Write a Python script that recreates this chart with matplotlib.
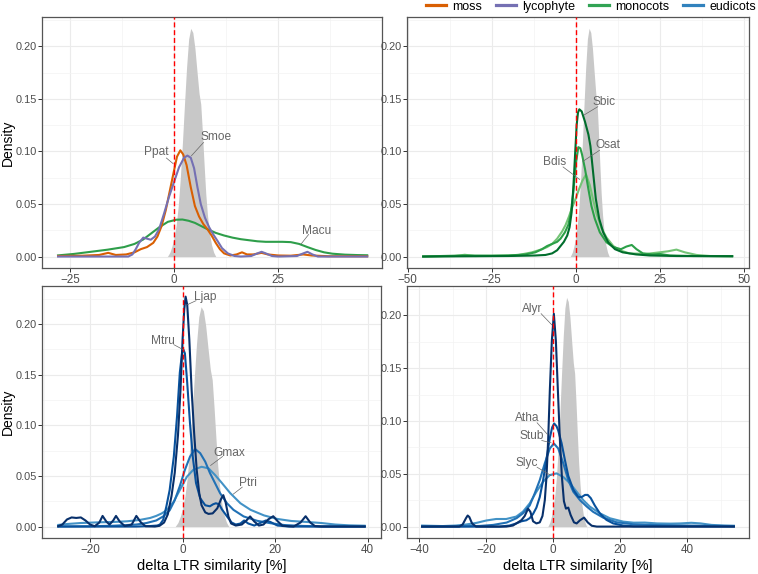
import numpy as np
import matplotlib
matplotlib.use("Agg")
import matplotlib.pyplot as plt
from matplotlib.lines import Line2D

plt.rcParams['font.family'] = ['Liberation Sans', 'DejaVu Sans']

# ---------------- data ----------------
groups = ["moss", "lycophyte", "monocots", "eudicots"]
group_colors = ["#D95F02", "#7570B3", "#31A354", "#3182BD"]

# grey background density (same in every panel)
bg_x = [-1.6, -1.0, -0.5, 0.0, 0.5, 1.0, 1.5, 2.0, 2.5, 3.0, 3.5, 4.0, 4.5, 5.0, 5.5,
        6.0, 6.4, 6.8, 7.2, 7.6, 8.0, 8.5, 9.0, 9.5, 10.0]
bg_y = [0.0, 0.004, 0.010, 0.018, 0.030, 0.048, 0.075, 0.108, 0.145, 0.180, 0.207, 0.217,
        0.213, 0.198, 0.176, 0.155, 0.145, 0.118, 0.088, 0.060, 0.040, 0.022, 0.011, 0.004, 0.0]

# panel 1
ppat = [(-28.1, 0.0005), (-22, 0.0008), (-18, 0.0015), (-15.8, 0.0035), (-14, 0.0015), (-11.5, 0.002),
        (-9.5, 0.004), (-8, 0.007), (-6.5, 0.009), (-5, 0.013), (-4, 0.019), (-3, 0.029), (-2, 0.044),
        (-1, 0.063), (0, 0.082), (0.7, 0.095), (1.5, 0.101), (2.2, 0.097), (3.0, 0.087), (4.0, 0.066),
        (5.0, 0.048), (6.0, 0.038), (7.0, 0.031), (8.0, 0.026), (9.0, 0.020), (10.0, 0.013), (11.0, 0.007),
        (12.0, 0.003), (13.5, 0.001), (15, 0.002), (16.3, 0.004), (17.5, 0.002), (19, 0.002), (21, 0.0035),
        (22.5, 0.002), (25, 0.001), (28, 0.0008), (31, 0.002), (33, 0.001), (37, 0.0003), (46.6, 0.0002)]
smoe = [(-28.1, 0), (-11, 0), (-10, 0.002), (-9.2, 0.007), (-8.4, 0.013), (-7.4, 0.018), (-6.5, 0.017),
        (-5.6, 0.016), (-4.6, 0.019), (-3.6, 0.026), (-2.4, 0.041), (-1.2, 0.057), (0, 0.071), (1.2, 0.085),
        (2.4, 0.094), (3.2, 0.096), (4.0, 0.094), (4.8, 0.084), (5.6, 0.066), (6.4, 0.050), (7.4, 0.037),
        (8.4, 0.028), (9.4, 0.021), (10.4, 0.015), (11.5, 0.008), (12.9, 0.003), (14.5, 0.0005), (16, 0),
        (18.5, 0.0005), (20, 0.003), (21, 0.0045), (22, 0.003), (23.5, 0.0005), (25, 0), (29.5, 0.0005),
        (31, 0.003), (32, 0.0045), (33.2, 0.002), (34.5, 0), (46.6, 0)]
macu = [(-28.1, 0.001), (-24, 0.0025), (-20, 0.0045), (-16, 0.0065), (-12, 0.009), (-9.5, 0.012),
        (-7.5, 0.016), (-5.5, 0.022), (-3.5, 0.028), (-1.5, 0.033), (0.5, 0.035), (2.0, 0.0352),
        (3.5, 0.034), (5.0, 0.032), (6.5, 0.029), (8.0, 0.026), (10, 0.0225), (12, 0.020), (14, 0.018),
        (16, 0.0165), (18, 0.0155), (20, 0.0145), (22, 0.014), (24, 0.014), (26, 0.014), (28, 0.0137),
        (30, 0.012), (32, 0.009), (34, 0.0062), (36, 0.004), (38, 0.0027), (41, 0.0018), (44, 0.0014),
        (46.6, 0.0012)]

# panel 2
sbic = [(-45.7, 0), (-30, 0.0003), (-20, 0.0005), (-15, 0.0008), (-12, 0.001), (-9, 0.0015), (-7, 0.003),
        (-5.5, 0.006), (-4.5, 0.010), (-3.5, 0.014), (-2.5, 0.020), (-1.8, 0.028), (-1.2, 0.042),
        (-0.7, 0.065), (-0.2, 0.095), (0.3, 0.125), (0.7, 0.137), (1.1, 0.140), (1.8, 0.138), (2.8, 0.128),
        (3.8, 0.116), (4.4, 0.105), (5.2, 0.080), (6.0, 0.055), (7.0, 0.036), (8.2, 0.023), (9.7, 0.0135),
        (11.7, 0.007), (14, 0.004), (18, 0.002), (22, 0.001), (30, 0.0005), (46.9, 0.0003)]
osat = [(-45.7, 0), (-40, 0.0005), (-33, 0.001), (-25, 0.0008), (-20, 0.001), (-15, 0.002), (-12, 0.004),
        (-10, 0.007), (-8.5, 0.010), (-7, 0.012), (-5.5, 0.014), (-4.5, 0.017), (-3.2, 0.023),
        (-2.2, 0.030), (-1.5, 0.040), (-0.7, 0.061), (0.1, 0.089), (0.8, 0.104), (1.4, 0.103),
        (1.9, 0.097), (2.8, 0.083), (3.8, 0.064), (4.7, 0.048), (5.7, 0.036), (7.2, 0.023), (9.2, 0.0135),
        (11.2, 0.009), (13.5, 0.007), (15.1, 0.0095), (16.7, 0.011), (18.1, 0.007), (20, 0.003),
        (23, 0.002), (25, 0.0025), (28, 0.001), (35, 0.0005), (46.9, 0.0003)]
bdis = [(-45.7, 0), (-36, 0.0005), (-33, 0.0017), (-30, 0.0005), (-25, 0.0007), (-20, 0.001),
        (-17, 0.0015), (-13, 0.004), (-10, 0.007), (-8.5, 0.009), (-7, 0.012), (-5.5, 0.017), (-4, 0.024),
        (-3, 0.030), (-2, 0.038), (-1, 0.047), (0, 0.055), (1, 0.064), (2, 0.072), (3.1, 0.078),
        (4.2, 0.068), (5.2, 0.054), (6.2, 0.041), (7.7, 0.027), (9.2, 0.018), (11.2, 0.010), (13.1, 0.006),
        (16, 0.003), (21, 0.0025), (25, 0.004), (27.5, 0.005), (30, 0.0066), (32.5, 0.004), (36, 0.0015),
        (40, 0.0005), (46.9, 0.0003)]

# panel 3
ljap = [(-27.1, 0), (-26, 0.002), (-25, 0.007), (-24, 0.009), (-23, 0.0085), (-22, 0.009), (-21, 0.006),
        (-20, 0.002), (-19, 0.0003), (-18, 0.004), (-17.3, 0.0105), (-16.5, 0.005), (-15.8, 0.002),
        (-15, 0.006), (-14.4, 0.0105), (-13.6, 0.005), (-12.5, 0.0005), (-11, 0.002), (-10, 0.0105),
        (-9, 0.004), (-8, 0.0003), (-6, 0), (-5, 0.0007), (-4, 0.004), (-3.2, 0.012), (-2.4, 0.030),
        (-1.7, 0.053), (-1.0, 0.090), (-0.45, 0.135), (0, 0.185), (0.35, 0.214), (0.65, 0.227),
        (1.0, 0.219), (1.45, 0.185), (1.95, 0.135), (2.5, 0.092), (3.05, 0.056), (3.6, 0.033),
        (4.1, 0.021), (4.9, 0.014), (5.6, 0.0125), (6.5, 0.013), (7.5, 0.018), (8.3, 0.027), (8.8, 0.031),
        (9.3, 0.024), (9.9, 0.010), (10.5, 0.003), (11.5, 0.001), (12.8, 0.002), (13.8, 0.006),
        (14.6, 0.010), (15.5, 0.005), (16.5, 0.001), (17.5, 0.002), (18.5, 0.007), (19.6, 0.0102),
        (20.6, 0.005), (21.6, 0.0008), (24, 0), (25.5, 0.004), (26.6, 0.0102), (27.6, 0.004),
        (28.6, 0.0005), (30, 0), (39.6, 0)]
mtru = [(-27.1, 0), (-10, 0), (-7, 0.0005), (-5.5, 0.001), (-4.9, 0.002), (-4.2, 0.0066), (-3.5, 0.020),
        (-2.8, 0.036), (-1.9, 0.069), (-1.2, 0.109), (-0.6, 0.152), (-0.1, 0.172), (0.15, 0.175),
        (0.5, 0.171), (1.0, 0.142), (1.6, 0.102), (2.2, 0.069), (2.9, 0.043), (3.8, 0.028), (4.9, 0.021),
        (5.9, 0.020), (6.6, 0.022), (7.2, 0.023), (7.9, 0.022), (8.5, 0.017), (9.6, 0.010), (10.6, 0.004),
        (11.5, 0.002), (12.5, 0.003), (13.3, 0.006), (14.2, 0.003), (15.5, 0.001), (17, 0.004),
        (18, 0.006), (19, 0.0045), (20.5, 0.001), (23, 0), (39.6, 0)]
gmax = [(-27.1, 0.0001), (-20, 0.0003), (-15, 0.0008), (-12.9, 0.0013), (-10, 0.002), (-7.8, 0.0035),
        (-5.7, 0.006), (-4.2, 0.010), (-2.8, 0.016), (-1.7, 0.026), (-0.6, 0.040), (0.5, 0.056),
        (1.6, 0.069), (2.7, 0.0765), (3.8, 0.0725), (4.9, 0.064), (5.9, 0.053), (7.0, 0.043), (8.1, 0.033),
        (9.6, 0.023), (11.0, 0.0165), (13.2, 0.010), (16.1, 0.0057), (19, 0.0033), (22, 0.0015),
        (26, 0.0006), (30, 0.0002), (39.6, 0)]
ptri = [(-27.1, 0.0015), (-25, 0.0025), (-22, 0.0035), (-18, 0.0042), (-15, 0.0045), (-12, 0.0052),
        (-9.3, 0.0065), (-7, 0.0085), (-5.7, 0.0105), (-4.5, 0.013), (-3.5, 0.016), (-2.0, 0.024),
        (-0.6, 0.036), (0.9, 0.049), (2.3, 0.056), (4.1, 0.059), (5.6, 0.0575), (7.0, 0.051), (8.5, 0.043),
        (10.3, 0.033), (12.5, 0.023), (14.7, 0.0165), (17.6, 0.011), (20.5, 0.0075), (23.5, 0.0055),
        (27, 0.0045), (30, 0.0035), (33, 0.002), (36, 0.0012), (39.6, 0.0008)]

# panel 4
alyr = [(-39.4, 0), (-28, 0), (-27, 0.002), (-26, 0.008), (-25.5, 0.0105), (-25, 0.009), (-24.2, 0.003),
        (-23, 0), (-14, 0), (-12, 0.001), (-10.5, 0.004), (-9.5, 0.006), (-8.5, 0.010), (-7.5, 0.017),
        (-6.8, 0.014), (-6.0, 0.005), (-5.0, 0.003), (-4.0, 0.004), (-3.2, 0.010), (-2.5, 0.025),
        (-2.0, 0.047), (-1.5, 0.082), (-1.0, 0.129), (-0.4, 0.176), (0.2, 0.2015), (0.8, 0.176),
        (1.4, 0.129), (2.0, 0.082), (2.6, 0.047), (3.2, 0.024), (3.8, 0.017), (4.5, 0.018), (5.2, 0.011),
        (6.2, 0.004), (7.0, 0.003), (8.0, 0.006), (9.2, 0.0085), (10.3, 0.004), (11.5, 0.0008), (13, 0),
        (54.2, 0)]
atha = [(-39.4, 0), (-16, 0), (-13, 0.001), (-11, 0.003), (-9.5, 0.005), (-8, 0.006), (-7, 0.008),
        (-6, 0.012), (-5, 0.018), (-4, 0.028), (-3, 0.044), (-2, 0.064), (-1, 0.084), (-0.3, 0.094),
        (0.3, 0.0976), (1.0, 0.095), (1.5, 0.091), (2.5, 0.079), (3.5, 0.063), (4.5, 0.048), (6.0, 0.035),
        (7.5, 0.028), (8.5, 0.028), (9.5, 0.030), (10.3, 0.030), (11.2, 0.027), (12.4, 0.020),
        (13.9, 0.0126), (15.9, 0.0063), (17.9, 0.003), (20.9, 0.001), (24, 0.0003), (54.2, 0)]
stub = [(-39.4, 0), (-30, 0.0002), (-22, 0.0006), (-17.9, 0.0016), (-13.9, 0.0038), (-10.9, 0.008),
        (-9, 0.0126), (-7, 0.020), (-5.5, 0.0315), (-4, 0.044), (-2.5, 0.060), (-1, 0.074), (0.2, 0.0787),
        (1.5, 0.074), (3.0, 0.060), (4.5, 0.044), (6.0, 0.033), (8.0, 0.025), (10, 0.019), (11.9, 0.014),
        (14.9, 0.0085), (18.9, 0.0041), (23.9, 0.0022), (30, 0.0015), (40, 0.001), (54.2, 0.0005)]
slyc = [(-39.4, 0.001), (-37, 0.0008), (-33, 0.0005), (-29, 0.001), (-25.9, 0.002), (-22.9, 0.0035),
        (-19.9, 0.0058), (-17, 0.0072), (-14, 0.0072), (-11, 0.0095), (-9, 0.0142), (-7, 0.022),
        (-5, 0.033), (-3, 0.0425), (-1, 0.0488), (1.0, 0.0504), (3.0, 0.047), (5.0, 0.041), (7.0, 0.033),
        (9.0, 0.025), (10.9, 0.019), (13.9, 0.0126), (16.9, 0.0079), (20.9, 0.0047), (24, 0.0037),
        (27.3, 0.0038), (31, 0.003), (35, 0.0028), (38, 0.003), (41.2, 0.0036), (44, 0.003),
        (47.2, 0.0016), (51, 0.001), (54.2, 0.0008)]

x_title = "delta LTR similarity [%]"
y_title = "Density"

# ---------------- layout / style ----------------
W, H = 758, 574
panels = [
    dict(box=(42, 17, 382, 268), xlim=(-31.7, 49.9), ylim=(-0.0109, 0.2278),
         xt=[-25, 0, 25], xm=[-12.5, 12.5, 37.5], ylab=True, xlab=False,
         curves=[("Macu", macu, "#2E9E4A"), ("Ppat", ppat, "#D95F02"), ("Smoe", smoe, "#7570B3")],
         labels={"Ppat": ((-4.2, 0.099), (-1.85, 0.0937), (-0.24, 0.0884)),
                 "Smoe": ((10.0, 0.1135), (7.07, 0.1085), (4.18, 0.0959)),
                 "Macu": ((34.2, 0.0245), (32.3, 0.021), (30.5, 0.012))}),
    dict(box=(407, 17, 749, 268), xlim=(-50.2, 51.6), ylim=(-0.0109, 0.2278),
         xt=[-50, -25, 0, 25, 50], xm=[-37.5, -12.5, 12.5, 37.5], ylab=False, xlab=False,
         curves=[("Bdis", bdis, "#74C476"), ("Osat", osat, "#2CA048"), ("Sbic", sbic, "#006D2C")],
         labels={"Sbic": ((8.6, 0.1466), (6.6, 0.1425), (2.5, 0.1346)),
                 "Osat": ((9.6, 0.1057), (7.1, 0.101), (2.2, 0.0906)),
                 "Bdis": ((-6.2, 0.0896), (-3.75, 0.0852), (1.2, 0.0733))}),
    dict(box=(42, 286, 381, 538), xlim=(-30.4, 42.9), ylim=(-0.0113, 0.2375),
         xt=[-20, 0, 20, 40], xm=[-30, -10, 10, 30], ylab=True, xlab=True,
         curves=[("Ptri", ptri, "#4292C6"), ("Gmax", gmax, "#2171B5"), ("Mtru", mtru, "#08519C"),
                 ("Ljap", ljap, "#08306B")],
         labels={"Ljap": ((4.8, 0.2267), (2.9, 0.223), (1.0, 0.219)),
                 "Mtru": ((-4.2, 0.1835), (-1.9, 0.1796), (0.15, 0.1746)),
                 "Gmax": ((10.2, 0.0731), (8.65, 0.0692), (6.05, 0.0603)),
                 "Ptri": ((14.2, 0.0428), (12.9, 0.0389), (10.95, 0.032))}),
    dict(box=(407, 286, 749, 538), xlim=(-43.6, 58.4), ylim=(-0.0108, 0.2278),
         xt=[-40, -20, 0, 20, 40], xm=[-30, -10, 10, 30, 50], ylab=False, xlab=True,
         curves=[("Slyc", slyc, "#4292C6"), ("Stub", stub, "#2171B5"), ("Atha", atha, "#08519C"),
                 ("Alyr", alyr, "#08306B")],
         labels={"Alyr": ((-6.4, 0.2063), (-3.6, 0.2016), (-0.4, 0.191)),
                 "Atha": ((-7.8, 0.103), (-4.8, 0.0983), (-1.6, 0.0869)),
                 "Stub": ((-6.4, 0.0856), (-3.4, 0.0815), (-0.6, 0.0793)),
                 "Slyc": ((-7.8, 0.0604), (-4.8, 0.0562), (-0.6, 0.0483))}),
]

fig = plt.figure(figsize=(W / 100, H / 100), dpi=100)

for p in panels:
    l, t, r, b = p["box"]
    ax = fig.add_axes([l / W, 1 - b / H, (r - l) / W, (b - t) / H])
    ax.set_xlim(*p["xlim"])
    ax.set_ylim(*p["ylim"])
    ax.set_xticks(p["xt"])
    ax.set_xticks(p["xm"], minor=True)
    ax.set_yticks([0, 0.05, 0.10, 0.15, 0.20])
    ax.set_yticks([0.025, 0.075, 0.125, 0.175, 0.225], minor=True)
    ax.set_yticklabels(["0.00", "0.05", "0.10", "0.15", "0.20"])
    ax.grid(True, which="major", color="#EBEBEB", lw=0.8, zorder=0)
    ax.grid(True, which="minor", color="#F3F3F3", lw=0.5, zorder=0)
    ax.set_axisbelow(True)
    for s in ax.spines.values():
        s.set_color("#555555")
        s.set_linewidth(0.9)
    ax.tick_params(which="major", direction="out", length=2.7, width=0.7, color="#333333",
                   labelsize=7.9, labelcolor="#4D4D4D", pad=1.0)
    ax.tick_params(axis="x", which="major", pad=1.5, labelsize=8.4)
    ax.tick_params(which="minor", length=0)

    ax.fill_between(bg_x, bg_y, 0, color="#C8C8C8", lw=0, zorder=1)
    for name, pts, col in p["curves"]:
        arr = np.array(pts)
        ax.plot(arr[:, 0], arr[:, 1], color=col, lw=1.5, zorder=2, solid_capstyle="butt")
    ax.axvline(0, color="#FF0000", lw=1.0, ls=(0, (3.6, 2.0)), zorder=3)

    for name, (tpos, s0, s1) in p["labels"].items():
        ax.plot([s0[0], s1[0]], [s0[1], s1[1]], color="#666666", lw=0.5, zorder=4)
        ax.text(tpos[0], tpos[1], name, ha="center", va="center", fontsize=8.6,
                color="#666666", zorder=5)

    if p["ylab"]:
        ax.set_ylabel(y_title, fontsize=10)
        ax.yaxis.label.set_va("center")
        ax.yaxis.set_label_coords((8 - l) / (r - l), 0.5)
    if p["xlab"]:
        ax.set_xlabel(x_title, fontsize=10.5, labelpad=2)

handles = [Line2D([0], [0], color=c, lw=2.3) for c in group_colors]
fig.legend(handles, groups, loc="upper right", bbox_to_anchor=(756 / W, 0.999), ncol=4,
           frameon=False, fontsize=9.0, handlelength=1.6, handletextpad=0.5,
           columnspacing=1.1, borderaxespad=0, borderpad=0)

fig.savefig("out.png", dpi=100)
